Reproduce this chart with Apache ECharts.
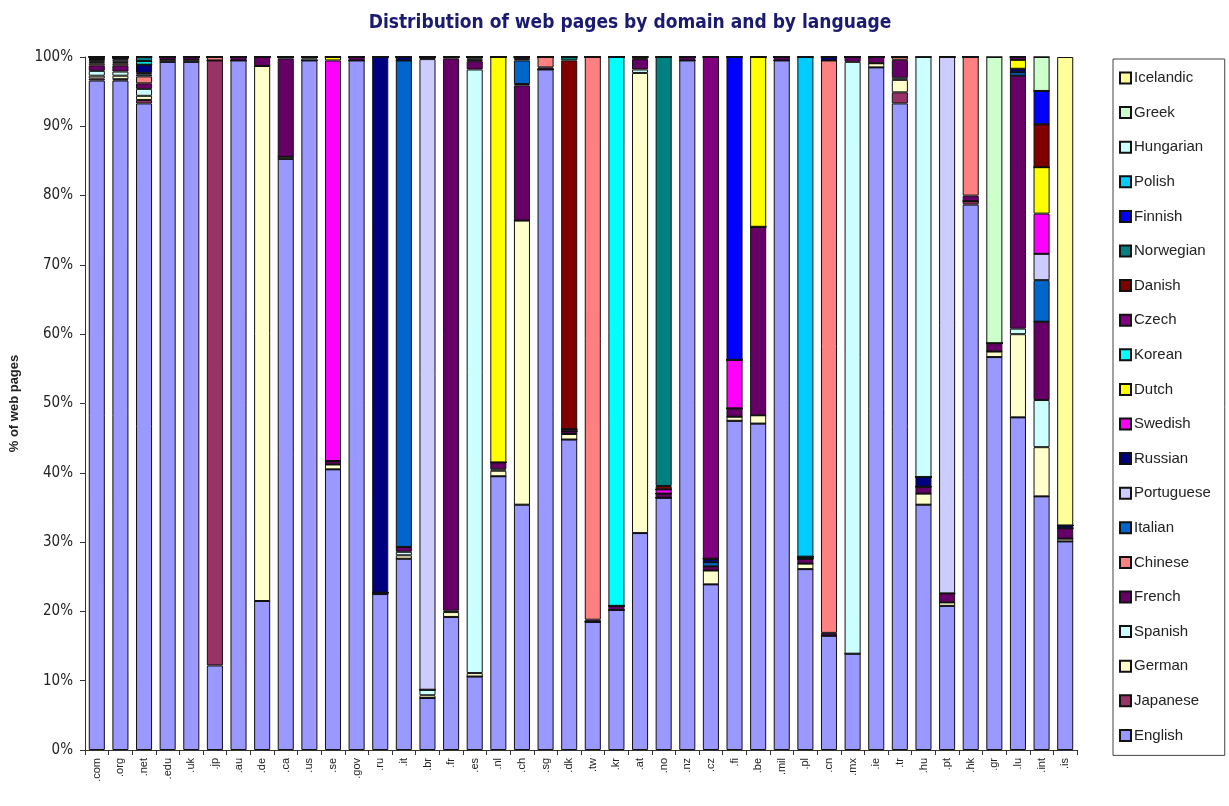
<!DOCTYPE html>
<html>
<head>
<meta charset="utf-8">
<title>Distribution of web pages by domain and by language</title>
<script src="https://cdn.jsdelivr.net/npm/echarts@6/dist/echarts.min.js"></script>
<style>
  html, body { margin: 0; padding: 0; background: #ffffff; }
  #chart { width: 1229px; height: 806px; }
</style>
</head>
<body>
<div id="chart"></div>
<script>
// Top-level domains (x axis)
const domains = ['.com', '.org', '.net', '.edu', '.uk', '.jp', '.au', '.de', '.ca', '.us',
  '.se', '.gov', '.ru', '.it', '.br', '.fr', '.es', '.nl', '.ch', '.sg',
  '.dk', '.tw', '.kr', '.at', '.no', '.nz', '.cz', '.fi', '.be', '.mil',
  '.pl', '.cn', '.mx', '.ie', '.tr', '.hu', '.pt', '.hk', '.gr', '.lu',
  '.int', '.is'];

// Share of pages (%) per language, one value per domain, stacked bottom to top
const english = [96.6, 96.6, 93.3, 99.3, 99.3, 12.2, 99.5, 21.5, 85.3, 99.5,
  40.5, 99.5, 22.5, 27.6, 7.5, 19.2, 10.6, 39.5, 35.4, 98.2,
  44.8, 18.5, 20.2, 31.3, 36.4, 99.5, 23.9, 47.5, 47.1, 99.5,
  26.1, 16.5, 13.9, 98.5, 93.3, 35.4, 20.8, 78.7, 56.7, 48.0,
  36.6, 30.1];
const japanese = [0.3, 0.2, 0.5, 0, 0, 87.3, 0, 0, 0, 0,
  0, 0, 0, 0, 0, 0, 0, 0, 0, 0,
  0, 0, 0, 0, 0, 0, 0, 0, 0, 0,
  0, 0, 0, 0, 1.6, 0, 0, 0.5, 0, 0,
  0, 0];
const german = [0.4, 0.5, 0.6, 0.3, 0.3, 0, 0, 77.2, 0.3, 0,
  0.7, 0, 0.2, 0.5, 0.4, 0.7, 0.5, 0.8, 41.0, 0,
  0.8, 0, 0, 66.4, 0, 0, 2.0, 0.6, 1.2, 0,
  0.8, 0, 0, 0.6, 1.8, 1.6, 0.5, 0, 0.8, 12.0,
  7.1, 0.4];
const spanish = [0.7, 0.6, 1.0, 0, 0, 0, 0, 0, 0, 0.3,
  0, 0, 0, 0.5, 0.8, 0.2, 87.1, 0.2, 0, 0,
  0, 0, 0, 0.5, 0, 0, 0, 0, 0, 0,
  0, 0, 85.4, 0, 0.3, 0, 0, 0, 0, 0.8,
  6.8, 0];
const french = [0.8, 0.9, 0.8, 0.4, 0.4, 0, 0.5, 1.3, 14.2, 0.2,
  0.5, 0.5, 0, 0.7, 0, 79.7, 1.2, 1.0, 19.5, 0.3,
  0.4, 0.3, 0.6, 1.5, 0.6, 0.5, 0.6, 1.2, 27.2, 0.5,
  0.7, 0.4, 0.7, 0.9, 2.6, 1.0, 1.3, 0.8, 1.2, 36.5,
  11.3, 1.5];
const chinese = [0.3, 0.3, 1.0, 0, 0, 0.5, 0, 0, 0.2, 0,
  0, 0, 0, 0, 0, 0.2, 0.2, 0, 0.2, 1.5,
  0, 81.2, 0, 0.3, 0, 0, 0, 0, 0, 0,
  0, 82.6, 0, 0, 0.4, 0, 0, 20.0, 0, 0,
  0, 0];
const italian = [0.2, 0.2, 0.3, 0, 0, 0, 0, 0, 0, 0,
  0, 0, 0, 70.2, 0, 0, 0.2, 0, 3.4, 0,
  0, 0, 0, 0, 0, 0, 0.6, 0, 0, 0,
  0, 0, 0, 0, 0, 0, 0, 0, 0, 0.5,
  6.0, 0];
const portuguese = [0.2, 0.3, 0.2, 0, 0, 0, 0, 0, 0, 0,
  0, 0, 0, 0, 91.0, 0, 0.2, 0, 0.2, 0,
  0, 0, 0, 0, 0, 0, 0, 0, 0, 0,
  0, 0, 0, 0, 0, 0, 77.4, 0, 0, 0,
  3.8, 0];
const russian = [0.1, 0.2, 1.2, 0, 0, 0, 0, 0, 0, 0,
  0, 0, 77.3, 0.5, 0.3, 0, 0, 0, 0.3, 0,
  0, 0, 0, 0, 0, 0, 0.5, 0, 0, 0,
  0.3, 0.5, 0, 0, 0, 1.4, 0, 0, 0, 0.5,
  0, 0.4];
const swedish = [0.1, 0, 0, 0, 0, 0, 0, 0, 0, 0,
  57.8, 0, 0, 0, 0, 0, 0, 0, 0, 0,
  0.3, 0, 0, 0, 0.6, 0, 0, 7.0, 0, 0,
  0, 0, 0, 0, 0, 0, 0, 0, 0, 0,
  5.8, 0];
const dutch = [0.1, 0.2, 0, 0, 0, 0, 0, 0, 0, 0,
  0.5, 0, 0, 0, 0, 0, 0, 58.5, 0, 0,
  0, 0, 0, 0, 0, 0, 0, 0, 24.5, 0,
  0, 0, 0, 0, 0, 0, 0, 0, 0, 1.3,
  6.7, 0];
const korean = [0.1, 0, 0.5, 0, 0, 0, 0, 0, 0, 0,
  0, 0, 0, 0, 0, 0, 0, 0, 0, 0,
  0, 0, 79.2, 0, 0, 0, 0, 0, 0, 0,
  0, 0, 0, 0, 0, 0, 0, 0, 0, 0,
  0, 0];
const czech = [0.1, 0, 0, 0, 0, 0, 0, 0, 0, 0,
  0, 0, 0, 0, 0, 0, 0, 0, 0, 0,
  0, 0, 0, 0, 0, 0, 72.4, 0, 0, 0,
  0, 0, 0, 0, 0, 0, 0, 0, 0, 0.4,
  0, 0];
const danish = [0, 0, 0, 0, 0, 0, 0, 0, 0, 0,
  0, 0, 0, 0, 0, 0, 0, 0, 0, 0,
  53.2, 0, 0, 0, 0.5, 0, 0, 0, 0, 0,
  0, 0, 0, 0, 0, 0, 0, 0, 0, 0,
  6.2, 0];
const norwegian = [0, 0, 0.6, 0, 0, 0, 0, 0, 0, 0,
  0, 0, 0, 0, 0, 0, 0, 0, 0, 0,
  0.5, 0, 0, 0, 61.9, 0, 0, 0, 0, 0,
  0, 0, 0, 0, 0, 0, 0, 0, 0, 0,
  0, 0];
const finnish = [0, 0, 0, 0, 0, 0, 0, 0, 0, 0,
  0, 0, 0, 0, 0, 0, 0, 0, 0, 0,
  0, 0, 0, 0, 0, 0, 0, 43.7, 0, 0,
  0, 0, 0, 0, 0, 0, 0, 0, 0, 0,
  4.8, 0];
const polish = [0, 0, 0, 0, 0, 0, 0, 0, 0, 0,
  0, 0, 0, 0, 0, 0, 0, 0, 0, 0,
  0, 0, 0, 0, 0, 0, 0, 0, 0, 0,
  72.1, 0, 0, 0, 0, 0, 0, 0, 0, 0,
  0, 0];
const hungarian = [0, 0, 0, 0, 0, 0, 0, 0, 0, 0,
  0, 0, 0, 0, 0, 0, 0, 0, 0, 0,
  0, 0, 0, 0, 0, 0, 0, 0, 0, 0,
  0, 0, 0, 0, 0, 60.6, 0, 0, 0, 0,
  0, 0];
const greek = [0, 0, 0, 0, 0, 0, 0, 0, 0, 0,
  0, 0, 0, 0, 0, 0, 0, 0, 0, 0,
  0, 0, 0, 0, 0, 0, 0, 0, 0, 0,
  0, 0, 0, 0, 0, 0, 0, 0, 41.3, 0,
  4.9, 0];
const icelandic = [0, 0, 0, 0, 0, 0, 0, 0, 0, 0,
  0, 0, 0, 0, 0, 0, 0, 0, 0, 0,
  0, 0, 0, 0, 0, 0, 0, 0, 0, 0,
  0, 0, 0, 0, 0, 0, 0, 0, 0, 0,
  0, 67.6];

// y axis ticks
const yTicks = [0, 10, 20, 30, 40, 50, 60, 70, 80, 90, 100];

// Languages in stacking order, each with its fill colour
const languages = [
  { name: 'English', values: english, color: '#9999FF' },
  { name: 'Japanese', values: japanese, color: '#993366' },
  { name: 'German', values: german, color: '#FFFFCC' },
  { name: 'Spanish', values: spanish, color: '#CCFFFF' },
  { name: 'French', values: french, color: '#660066' },
  { name: 'Chinese', values: chinese, color: '#FF8080' },
  { name: 'Italian', values: italian, color: '#0066CC' },
  { name: 'Portuguese', values: portuguese, color: '#CCCCFF' },
  { name: 'Russian', values: russian, color: '#000080' },
  { name: 'Swedish', values: swedish, color: '#FF00FF' },
  { name: 'Dutch', values: dutch, color: '#FFFF00' },
  { name: 'Korean', values: korean, color: '#00FFFF' },
  { name: 'Czech', values: czech, color: '#800080' },
  { name: 'Danish', values: danish, color: '#800000' },
  { name: 'Norwegian', values: norwegian, color: '#008080' },
  { name: 'Finnish', values: finnish, color: '#0000FF' },
  { name: 'Polish', values: polish, color: '#00CCFF' },
  { name: 'Hungarian', values: hungarian, color: '#CCFFFF' },
  { name: 'Greek', values: greek, color: '#CCFFCC' },
  { name: 'Icelandic', values: icelandic, color: '#FFFF99' }
];

const chart = echarts.init(document.getElementById('chart'), null, { renderer: 'canvas' });

const baseFont = "'Liberation Sans', Arial, sans-serif";
const narrowFont = "'Liberation Sans Narrow', 'DejaVu Sans Condensed', 'Liberation Sans', sans-serif";

chart.setOption({
  backgroundColor: '#ffffff',
  animation: false,
  title: {
    text: 'Distribution of web pages by domain and by language',
    left: 625,
    textAlign: 'center',
    top: 9,
    textStyle: { fontFamily: narrowFont, fontSize: 19, fontWeight: 'bold', color: '#1a1a70' }
  },
  grid: { left: 83, right: 152, top: 57, bottom: 56, containLabel: false },
  legend: {
    orient: 'vertical',
    left: 1113,
    top: 59,
    data: languages.map(l => l.name).reverse(),
    icon: 'rect',
    itemWidth: 11,
    itemHeight: 11,
    itemGap: 16.6,
    padding: [10, 14, 11, 6],
    borderColor: '#444',
    borderWidth: 1,
    selectedMode: false,
    textStyle: { fontFamily: baseFont, fontSize: 15, color: '#222', lineHeight: 18, padding: [0, 0, 0, -2] }
  },
  xAxis: {
    type: 'category',
    data: domains,
    boundaryGap: true,
    axisLine: { lineStyle: { color: '#333', width: 1 } },
    axisTick: { show: true, alignWithLabel: false, length: 5, lineStyle: { color: '#333' } },
    axisLabel: { rotate: 90, interval: 0, fontFamily: baseFont, fontSize: 11, color: '#222', margin: 8 }
  },
  yAxis: {
    type: 'value',
    min: yTicks[0],
    max: yTicks[yTicks.length - 1],
    interval: yTicks[1] - yTicks[0],
    name: '% of web pages',
    nameLocation: 'middle',
    nameRotate: 90,
    nameGap: 64,
    nameTextStyle: { fontFamily: baseFont, fontSize: 13, fontWeight: 'bold', color: '#222' },
    axisLine: { show: true, lineStyle: { color: '#333', width: 1 } },
    axisTick: { show: true, length: 5, lineStyle: { color: '#333' } },
    splitLine: { show: false },
    axisLabel: { formatter: '{value}%', fontFamily: narrowFont, fontSize: 15, color: '#222', margin: 12 }
  },
  series: languages.map(l => ({
    name: l.name,
    type: 'bar',
    stack: 'share',
    data: l.values,
    barCategoryGap: '32%',
    itemStyle: { color: l.color, borderColor: '#111', borderWidth: 1 },
    emphasis: { disabled: true }
  }))
});
</script>
</body>
</html>
